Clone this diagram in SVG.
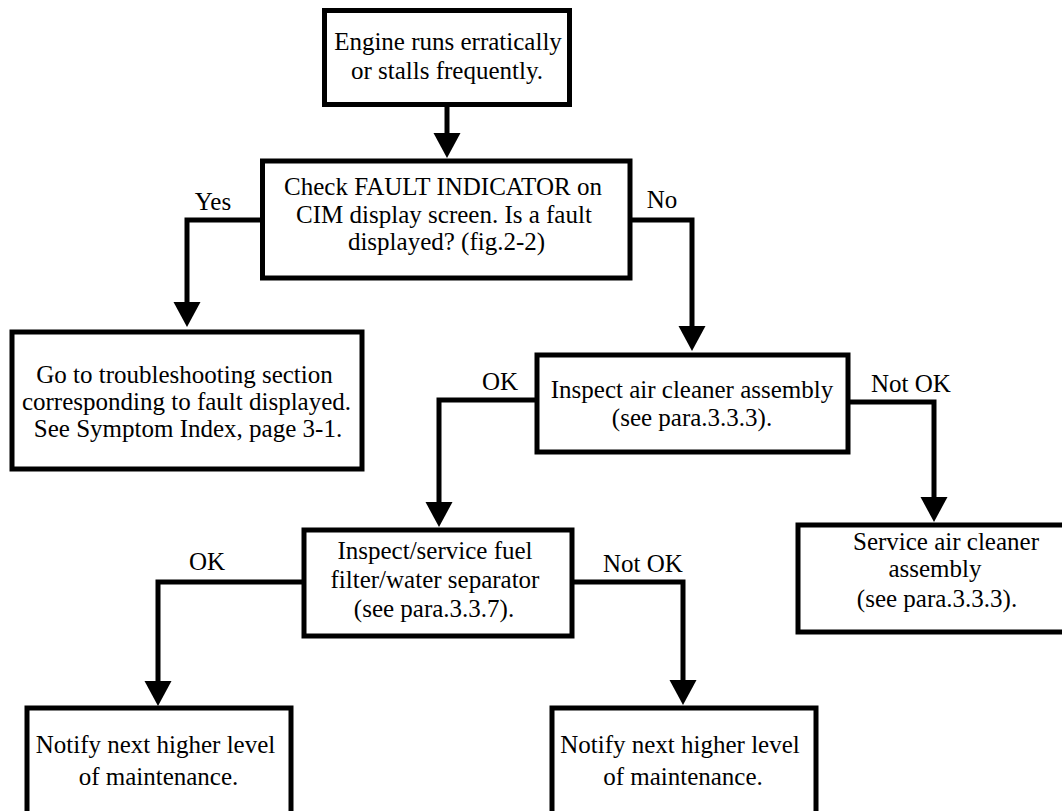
<svg xmlns="http://www.w3.org/2000/svg" width="1062" height="811" viewBox="0 0 1062 811">
<style>
.box{fill:#fff;stroke:#000;stroke-width:5}
text{font-family:'Liberation Serif','Tinos','Times New Roman','DejaVu Serif','Noto Serif',serif;font-size:25px;fill:#000;text-anchor:middle}
.c{fill:none;stroke:#000;stroke-width:5}
.h{fill:#000}
</style>
<rect width="1062" height="811" fill="#fff"/>
<g id="connectors">
<path class="c" d="M447,107 V140"/>
<path class="h" d="M433.5,133 L460.5,133 L447,158 Z"/>
<path class="c" d="M262,220 H187 V315"/>
<path class="h" d="M173.5,302 L200.5,302 L187,327 Z"/>
<path class="c" d="M630,220 H692 V340"/>
<path class="h" d="M678.5,326 L705.5,326 L692,351 Z"/>
<path class="c" d="M537,400 H439 V515"/>
<path class="h" d="M425.5,502 L452.5,502 L439,527 Z"/>
<path class="c" d="M848,402 H934 V510"/>
<path class="h" d="M920.5,497 L947.5,497 L934,522 Z"/>
<path class="c" d="M304,582 H158 V695"/>
<path class="h" d="M144.5,681 L171.5,681 L158,706 Z"/>
<path class="c" d="M572,582 H683 V695"/>
<path class="h" d="M669.5,680 L696.5,680 L683,705 Z"/>
</g>
<g id="labels">
<text x="213" y="210">Yes</text>
<text x="662" y="208">No</text>
<text x="500" y="390">OK</text>
<text x="911" y="392">Not OK</text>
<text x="207" y="570">OK</text>
<text x="643" y="572">Not OK</text>
</g>
<g id="n1">
<rect class="box" x="324.5" y="10.5" width="245" height="94"/>
<text x="448" y="50">Engine runs erratically</text>
<text x="447" y="79">or stalls frequently.</text>
</g>
<g id="n2">
<rect class="box" x="262.5" y="161" width="367.5" height="117"/>
<text x="443" y="195">Check FAULT INDICATOR on</text>
<text x="444" y="223">CIM display screen. Is a fault</text>
<text x="446.5" y="250">displayed? (fig.2-2)</text>
</g>
<g id="n3">
<rect class="box" x="12" y="332" width="350" height="137"/>
<text x="184.5" y="383">Go to troubleshooting section</text>
<text x="186.5" y="410">corresponding to fault displayed.</text>
<text x="188" y="437">See Symptom Index, page 3-1.</text>
</g>
<g id="n4">
<rect class="box" x="537" y="355" width="311" height="97"/>
<text x="692" y="398">Inspect air cleaner assembly</text>
<text x="692" y="426">(see para.3.3.3).</text>
</g>
<g id="n5">
<rect class="box" x="798" y="525" width="280" height="107"/>
<text x="946" y="550">Service air cleaner</text>
<text x="935" y="577">assembly</text>
<text x="937" y="607">(see para.3.3.3).</text>
</g>
<g id="n6">
<rect class="box" x="304" y="530" width="268" height="106"/>
<text x="435" y="559">Inspect/service fuel</text>
<text x="435" y="588">filter/water separator</text>
<text x="434" y="617">(see para.3.3.7).</text>
</g>
<g id="n7">
<rect class="box" x="27" y="708" width="264" height="130"/>
<text x="155.5" y="753">Notify next higher level</text>
<text x="158.5" y="785">of maintenance.</text>
</g>
<g id="n8">
<rect class="box" x="552" y="708" width="264" height="130"/>
<text x="680" y="753">Notify next higher level</text>
<text x="683" y="785">of maintenance.</text>
</g>
</svg>
